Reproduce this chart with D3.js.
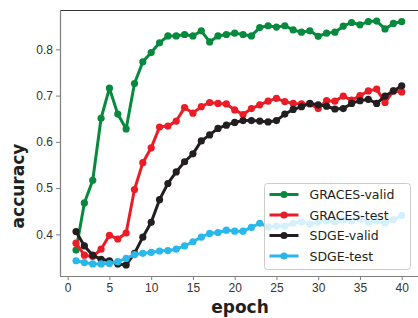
<!DOCTYPE html>
<html>
<head>
<meta charset="utf-8">
<script src="https://cdn.jsdelivr.net/npm/d3@7"></script>
<style>
  body { margin: 0; background: #fff; }
  svg { display: block; font-family: "DejaVu Sans", sans-serif; }
</style>
</head>
<body>
<div id="chart"></div>
<script>
// datos
var epochs = d3.range(1, 41);
var gracesValid = [0.366, 0.468, 0.517, 0.651, 0.716, 0.660, 0.628, 0.726, 0.773, 0.793,
                   0.814, 0.829, 0.829, 0.832, 0.829, 0.840, 0.816, 0.829, 0.832, 0.835,
                   0.832, 0.829, 0.847, 0.851, 0.848, 0.851, 0.842, 0.837, 0.840, 0.828,
                   0.835, 0.837, 0.850, 0.858, 0.853, 0.860, 0.861, 0.844, 0.856, 0.860];
var gracesTest = [0.381, 0.355, 0.352, 0.368, 0.398, 0.390, 0.403, 0.497, 0.555, 0.587,
                  0.632, 0.634, 0.645, 0.674, 0.662, 0.676, 0.685, 0.683, 0.682, 0.669,
                  0.659, 0.672, 0.680, 0.688, 0.694, 0.687, 0.683, 0.682, 0.682, 0.672,
                  0.689, 0.688, 0.699, 0.690, 0.700, 0.710, 0.714, 0.685, 0.710, 0.708];
var sdgeValid = [0.406, 0.375, 0.355, 0.346, 0.343, 0.336, 0.334, 0.359, 0.394, 0.426,
                 0.475, 0.510, 0.535, 0.557, 0.574, 0.602, 0.615, 0.629, 0.636, 0.642,
                 0.646, 0.646, 0.645, 0.643, 0.646, 0.660, 0.670, 0.676, 0.683, 0.680,
                 0.677, 0.671, 0.672, 0.683, 0.689, 0.692, 0.683, 0.699, 0.710, 0.721];
var sdgeTest = [0.343, 0.339, 0.336, 0.336, 0.337, 0.341, 0.348, 0.356, 0.359, 0.361,
                0.364, 0.365, 0.368, 0.375, 0.384, 0.394, 0.402, 0.404, 0.409, 0.407,
                0.407, 0.415, 0.424, 0.416, 0.418, 0.418, 0.424, 0.427, 0.422, 0.427,
                0.429, 0.427, 0.431, 0.429, 0.434, 0.426, 0.429, 0.424, 0.432, 0.441];
var seriesNames = ["GRACES-valid", "GRACES-test", "SDGE-valid", "SDGE-test"];
var xTicks = [0, 5, 10, 15, 20, 25, 30, 35, 40];
var yTicks = [0.4, 0.5, 0.6, 0.7, 0.8];

var series = [
    {name: seriesNames[0], values: gracesValid, color: "#078a3e"},
    {name: seriesNames[1], values: gracesTest, color: "#ec1c27"},
    {name: seriesNames[2], values: sdgeValid, color: "#231f20"},
    {name: seriesNames[3], values: sdgeTest, color: "#2ab7ea"}
];

var W = 418, H = 318;
var mLeft = 60, mRight = 418, mTop = 10, mBottom = 276;

var svg = d3.select("#chart").append("svg")
    .attr("width", W)
    .attr("height", H);

var x = d3.scaleLinear().domain([-0.92, 41.95]).range([mLeft, mRight]);
var y = d3.scaleLinear().domain([0.31, 0.885]).range([mBottom, mTop]);

// ejes
var xAxis = svg.append("g")
    .attr("transform", "translate(0," + mBottom + ")")
    .call(d3.axisBottom(x).tickValues(xTicks).tickSize(4).tickPadding(3).tickFormat(d3.format("d")));
var yAxis = svg.append("g")
    .attr("transform", "translate(" + mLeft + ",0)")
    .call(d3.axisLeft(y).tickValues(yTicks).tickSize(4).tickPadding(3).tickFormat(d3.format(".1f")));

[xAxis, yAxis].forEach(function(g) {
    g.select(".domain").remove();
    g.selectAll(".tick line").attr("stroke", "#7f7f7f").attr("stroke-width", 1);
    g.selectAll(".tick text").attr("fill", "#333").style("font-size", "12px");
});

// marco
svg.append("line").attr("x1", mLeft).attr("x2", mRight).attr("y1", mTop + 0.5).attr("y2", mTop + 0.5)
    .attr("stroke", "#333").attr("stroke-width", 1);
svg.append("line").attr("x1", mLeft + 0.5).attr("x2", mLeft + 0.5).attr("y1", mTop).attr("y2", mBottom)
    .attr("stroke", "#7f7f7f").attr("stroke-width", 1.2);
svg.append("line").attr("x1", mLeft).attr("x2", mRight).attr("y1", mBottom + 0.5).attr("y2", mBottom + 0.5)
    .attr("stroke", "#7f7f7f").attr("stroke-width", 1.2);

// lineas
var line = d3.line()
    .x(function(d, i) { return x(epochs[i]); })
    .y(function(d) { return y(d); });

series.forEach(function(s) {
    var g = svg.append("g");
    g.append("path")
        .datum(s.values)
        .attr("fill", "none")
        .attr("stroke", s.color)
        .attr("stroke-width", 3)
        .attr("stroke-linejoin", "round")
        .attr("d", line);
    g.selectAll("circle")
        .data(s.values)
        .enter().append("circle")
        .attr("cx", function(d, i) { return x(epochs[i]); })
        .attr("cy", function(d) { return y(d); })
        .attr("r", 3.6)
        .attr("fill", s.color);
});

// titulos de ejes
svg.append("text")
    .attr("x", (mLeft + 418) / 2 + 1)
    .attr("y", 313)
    .attr("text-anchor", "middle")
    .attr("font-weight", "bold")
    .attr("font-size", "17px")
    .attr("fill", "#231f20")
    .text("epoch");
svg.append("text")
    .attr("transform", "translate(24,186) rotate(-90)")
    .attr("text-anchor", "middle")
    .attr("font-weight", "bold")
    .attr("font-size", "17px")
    .attr("fill", "#231f20")
    .text("accuracy");

// leyenda
var lg = svg.append("g").attr("transform", "translate(264.5,183.5)");
lg.append("rect")
    .attr("width", 146).attr("height", 86).attr("rx", 3)
    .attr("fill", "#fff").attr("fill-opacity", 0.8)
    .attr("stroke", "#cccccc").attr("stroke-width", 1);
series.forEach(function(s, i) {
    var yy = 11 + i * 20.5;
    lg.append("line")
        .attr("x1", 5).attr("x2", 34).attr("y1", yy).attr("y2", yy)
        .attr("stroke", s.color).attr("stroke-width", 3);
    lg.append("circle").attr("cx", 19.5).attr("cy", yy).attr("r", 3.6).attr("fill", s.color);
    lg.append("text")
        .attr("x", 45).attr("y", yy + 4.5)
        .attr("font-size", "12.5px")
        .attr("fill", "#231f20")
        .text(s.name);
});
</script>
</body>
</html>
